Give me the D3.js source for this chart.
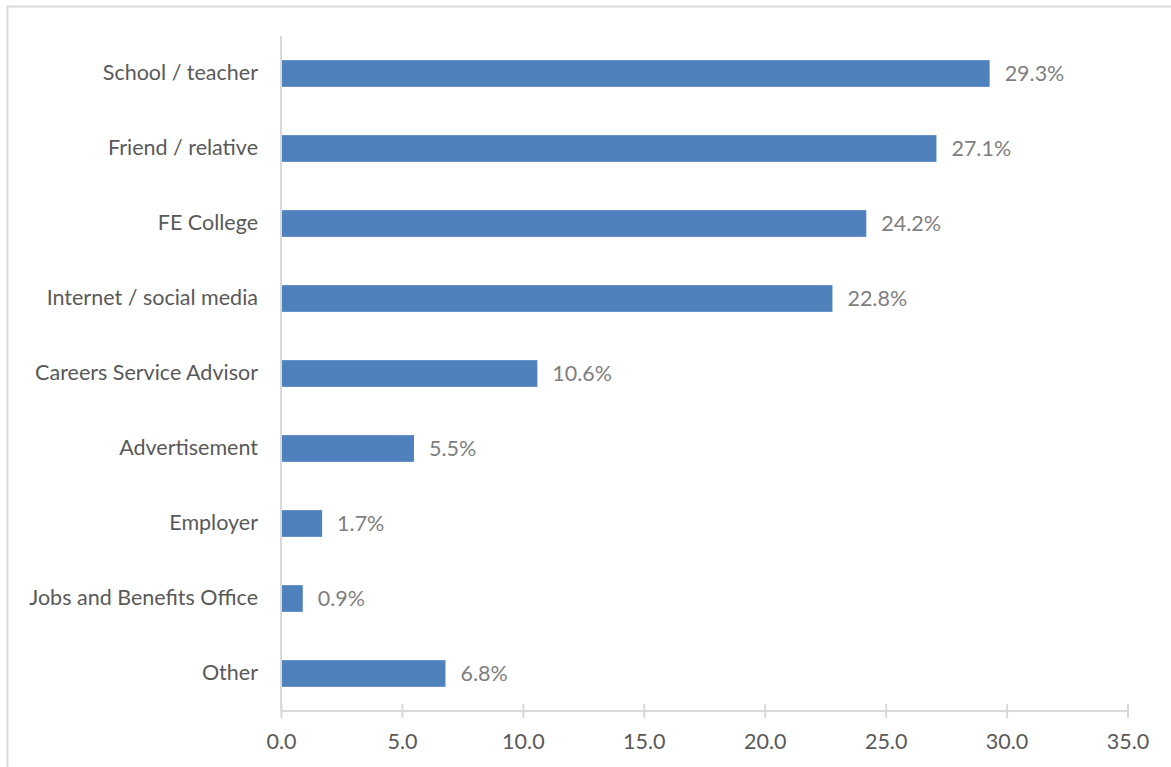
<!DOCTYPE html>
<html>
<head>
<meta charset="utf-8">
<script src="https://cdn.jsdelivr.net/npm/d3@7"></script>
<style>
  html, body { margin: 0; padding: 0; background: #fff; }
  svg { display: block; }
  text { font-family: Lato, "Open Sans", sans-serif; }
</style>
</head>
<body>
<svg id="chart" width="1171" height="767"></svg>
<script>
// Source of information about the course (percent of respondents)
const categories = [
  "School / teacher",
  "Friend / relative",
  "FE College",
  "Internet / social media",
  "Careers Service Advisor",
  "Advertisement",
  "Employer",
  "Jobs and Benefits Office",
  "Other"
];
const values = [29.3, 27.1, 24.2, 22.8, 10.6, 5.5, 1.7, 0.9, 6.8];
const xTicks = [0, 5, 10, 15, 20, 25, 30, 35];

const svg = d3.select("#chart");
const W = 1171, H = 767;
const margin = { left: 281, right: 43.5, top: 36, bottom: 56 };
const fontSize = 21.5;

// outer chart frame (top and left edges visible inside the window)
svg.append("rect")
  .attr("x", 7.5).attr("y", 6.5)
  .attr("width", W + 20).attr("height", H + 20)
  .attr("fill", "none").attr("stroke", "#d9d9d9").attr("stroke-width", 2);

const x = d3.scaleLinear().domain([0, 35]).range([margin.left, W - margin.right]);
const y = d3.scaleBand().domain(categories)
  .range([margin.top, H - margin.bottom])
  .paddingInner(0.644).paddingOuter(0.322);

const axisY = H - margin.bottom;

// bars
svg.append("g").selectAll("rect")
  .data(categories)
  .join("rect")
  .attr("x", x(0))
  .attr("y", (d) => y(d))
  .attr("width", (d, i) => x(values[i]) - x(0))
  .attr("height", y.bandwidth())
  .attr("fill", "#4f81bd");

// value labels
svg.append("g").selectAll("text")
  .data(categories)
  .join("text")
  .attr("x", (d, i) => x(values[i]) + 15)
  .attr("y", (d) => y(d) + y.bandwidth() / 2)
  .attr("dy", "0.35em")
  .attr("fill", "#7f7f7f")
  .attr("font-size", fontSize)
  .text((d, i) => values[i].toFixed(1) + "%");

// category axis (vertical line, labels)
const yAxis = svg.append("g")
  .attr("transform", `translate(${x(0)},0)`)
  .call(d3.axisLeft(y).tickSize(0).tickPadding(23));
yAxis.select(".domain").remove();
yAxis.selectAll("text")
  .attr("fill", "#595959").attr("font-size", fontSize)
  .style("font-family", "Lato, 'Open Sans', sans-serif");
svg.append("line")
  .attr("x1", x(0)).attr("x2", x(0))
  .attr("y1", margin.top).attr("y2", axisY)
  .attr("stroke", "#d9d9d9").attr("stroke-width", 2);

// value axis with crossing tick marks
const xAxis = svg.append("g")
  .attr("transform", `translate(0,${axisY})`)
  .call(d3.axisBottom(x).tickValues(xTicks).tickFormat(d3.format(".1f")).tickSize(7).tickPadding(16));
xAxis.select(".domain").attr("d", `M${x(0)},0H${x(35)}`).attr("stroke", "#d9d9d9").attr("stroke-width", 2);
xAxis.selectAll(".tick line").attr("y1", -7).attr("y2", 7).attr("stroke", "#d9d9d9").attr("stroke-width", 2);
xAxis.selectAll(".tick text")
  .attr("fill", "#595959").attr("font-size", fontSize)
  .style("font-family", "Lato, 'Open Sans', sans-serif");
</script>
</body>
</html>
